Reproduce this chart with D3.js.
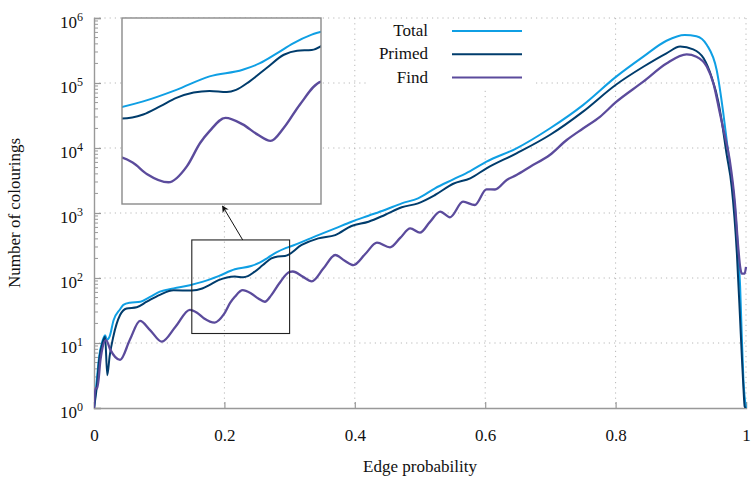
<!DOCTYPE html>
<html>
<head>
<meta charset="utf-8">
<script src="https://cdn.jsdelivr.net/npm/d3@7"></script>
<style>
body { margin: 0; background: #fff; }
text { font-family: "Liberation Serif", "Times New Roman", serif; fill: #111; }
</style>
</head>
<body>
<svg></svg>
<script>
// values (edge probability -> number of colourings)
const totalP = [0, 0.004, 0.008, 0.013, 0.017, 0.020, 0.024, 0.030, 0.040, 0.045, 0.055, 0.071, 0.086, 0.101, 0.122, 0.147, 0.166, 0.191, 0.216, 0.241, 0.254, 0.267, 0.279, 0.293, 0.300, 0.344, 0.370, 0.395, 0.421, 0.446, 0.472, 0.497, 0.523, 0.551, 0.577, 0.602, 0.648, 0.699, 0.750, 0.800, 0.8425, 0.878, 0.906, 0.924, 0.940, 0.955, 0.965, 0.970, 0.975, 0.983, 0.988, 0.991, 0.9934, 0.996, 1];
const totalN = [1, 2.5, 6.3, 10.7, 13.2, 11.2, 12.6, 22.4, 33.1, 38.5, 41.7, 43.2, 51.3, 61.7, 69.2, 77.6, 87.1, 107, 136, 153, 172, 206, 245, 286, 302, 457, 581, 735, 908, 1112, 1409, 1683, 2399, 3296, 4426, 6166, 9886, 19950, 45710, 123000, 254100, 446700, 547000, 524800, 384600, 158500, 35480, 14130, 5623, 1259, 251, 74, 14.1, 2.8, 1];

const primedP = [0, 0.004, 0.008, 0.013, 0.017, 0.0204, 0.024, 0.0296, 0.040, 0.050, 0.0655, 0.081, 0.101, 0.122, 0.150, 0.166, 0.179, 0.191, 0.204, 0.216, 0.229, 0.236, 0.246, 0.259, 0.272, 0.282, 0.293, 0.3185, 0.344, 0.370, 0.395, 0.421, 0.446, 0.472, 0.497, 0.523, 0.551, 0.577, 0.602, 0.648, 0.699, 0.750, 0.800, 0.8425, 0.878, 0.899, 0.919, 0.935, 0.947, 0.958, 0.963, 0.970, 0.978, 0.986, 0.991, 0.9934, 0.996, 0.998, 1];
const primedN = [1, 2.0, 5.6, 10, 12.5, 3.2, 6.3, 12.5, 26.9, 33.9, 35.5, 43.2, 55, 64.6, 64.3, 69, 80, 92.7, 102, 105, 103, 107, 124, 158, 200, 215, 218, 322, 407, 457, 631, 735, 933, 1225, 1409, 1892, 2818, 3412, 4864, 8279, 15850, 36310, 93330, 177800, 286400, 363100, 329600, 239900, 125900, 48980, 25120, 8318, 2541, 240, 22.6, 6.9, 2.1, 1.05, 1];

const findP = [0, 0.002, 0.005, 0.010, 0.0185, 0.025, 0.040, 0.055, 0.0706, 0.086, 0.104, 0.125, 0.147, 0.158, 0.169, 0.185, 0.199, 0.209, 0.216, 0.228, 0.241, 0.252, 0.262, 0.272, 0.284, 0.300, 0.305, 0.320, 0.334, 0.352, 0.370, 0.384, 0.398, 0.416, 0.434, 0.454, 0.470, 0.485, 0.500, 0.515, 0.531, 0.546, 0.566, 0.584, 0.602, 0.615, 0.633, 0.648, 0.669, 0.699, 0.725, 0.750, 0.776, 0.800, 0.8425, 0.878, 0.909, 0.924, 0.940, 0.950, 0.960, 0.965, 0.975, 0.983, 0.988, 0.991, 0.9934, 0.998, 1];
const findN = [1, 2, 2, 5.6, 11.1, 7.9, 5.5, 11.2, 21.9, 15.8, 10.5, 17.8, 32.4, 29.3, 23.8, 20.6, 27.5, 41.7, 51.3, 65, 57.8, 48.4, 43.1, 54.5, 82.2, 124, 126, 105, 88.7, 141, 226, 186, 158, 234, 349, 296, 417, 581, 498, 724, 1047, 859, 1493, 1327, 2312, 2300, 3221, 3846, 5164, 7798, 13270, 19950, 30200, 50120, 104700, 199500, 275400, 254100, 177800, 98860, 34280, 19950, 6531, 1413, 302, 148, 117, 117, 148];

const seriesNames = ["Total", "Primed", "Find"];
const seriesColors = ["#0f9fe4", "#003c6c", "#5b4b9c"];
const xTicks = [0, 0.2, 0.4, 0.6, 0.8, 1];
const yTicks = [1, 10, 100, 1000, 10000, 100000, 1000000];
const zoomP = [0.15, 0.30];
const zoomN = [14, 385];

const width = 752, height = 481;
const margin = {left: 94, right: 6, top: 18, bottom: 73};
const innerW = width - margin.left - margin.right;
const innerH = height - margin.top - margin.bottom;
const fontSize = 17;

let svg = d3.select("svg").attr("width", width).attr("height", height);

let xScale = d3.scaleLinear().domain([0, 1]).range([margin.left, margin.left + innerW]);
let yScale = d3.scaleLog().domain([1, 1e6]).range([margin.top + innerH, margin.top]);

const series = [
  totalP.map((p, i) => ({p: p, n: totalN[i]})),
  primedP.map((p, i) => ({p: p, n: primedN[i]})),
  findP.map((p, i) => ({p: p, n: findN[i]}))
];

// grid
let grid = svg.append("g").attr("stroke", "#b8b8b8").attr("stroke-width", 1).attr("stroke-dasharray", "1.2,4");
grid.selectAll(".gx").data(xTicks.slice(1)).enter().append("line")
  .attr("x1", d => xScale(d)).attr("x2", d => xScale(d))
  .attr("y1", margin.top).attr("y2", margin.top + innerH);
grid.selectAll(".gy").data(yTicks.slice(1)).enter().append("line")
  .attr("x1", margin.left).attr("x2", margin.left + innerW)
  .attr("y1", d => yScale(d)).attr("y2", d => yScale(d));

// axes
let xAxis = d3.axisBottom(xScale).tickValues(xTicks).tickSize(-6).tickPadding(21)
  .tickFormat(d => (d === 0 || d === 1) ? d : d.toFixed(1));
let gx = svg.append("g").attr("transform", `translate(0, ${margin.top + innerH})`).call(xAxis);
gx.select(".domain").attr("stroke", "#999").attr("stroke-width", 1.4);
gx.selectAll(".tick line").attr("stroke", "#999").attr("stroke-width", 1.2);
gx.selectAll(".tick text").attr("font-size", fontSize).attr("font-family", "Liberation Serif").attr("fill", "#111");

let minorTicks = [];
for (let e = 0; e < 6; e++) for (let k = 2; k <= 9; k++) minorTicks.push(k * Math.pow(10, e));
svg.append("g").selectAll("line").data(minorTicks).enter().append("line")
  .attr("x1", margin.left).attr("x2", margin.left + 4)
  .attr("y1", d => yScale(d)).attr("y2", d => yScale(d))
  .attr("stroke", "#999").attr("stroke-width", 1);

let yAxis = d3.axisLeft(yScale).tickValues(yTicks).tickSize(-7).tickFormat("");
let gy = svg.append("g").attr("transform", `translate(${margin.left}, 0)`).call(yAxis);
gy.select(".domain").attr("stroke", "#999").attr("stroke-width", 1.4);
gy.selectAll(".tick line").attr("stroke", "#999").attr("stroke-width", 1.2);
gy.selectAll(".tick text").remove();
yTicks.forEach(d => {
  let t = svg.append("text")
    .attr("x", margin.left - 11)
    .attr("y", yScale(d) + 10)
    .attr("text-anchor", "end")
    .attr("font-size", fontSize);
  t.append("tspan").text("10");
  t.append("tspan").attr("dy", -7).attr("font-size", 12).text(Math.round(Math.log10(d)));
});

// axis titles
svg.append("text").attr("x", margin.left + innerW / 2).attr("y", 472)
  .attr("text-anchor", "middle").attr("font-size", fontSize).text("Edge probability");
svg.append("text").attr("transform", `translate(20, ${margin.top + innerH / 2}) rotate(-90)`)
  .attr("text-anchor", "middle").attr("font-size", fontSize).text("Number of colourings");

// main curves
svg.append("clipPath").attr("id", "plotClip").append("rect")
  .attr("x", margin.left).attr("y", margin.top - 4).attr("width", innerW + 4).attr("height", innerH + 4);

let line = d3.line().x(d => xScale(d.p)).y(d => yScale(d.n)).curve(d3.curveMonotoneX);
svg.append("g").attr("clip-path", "url(#plotClip)")
  .selectAll("path").data(series).enter().append("path")
  .attr("d", line)
  .attr("fill", "none")
  .attr("stroke", (d, i) => seriesColors[i])
  .attr("stroke-width", (d, i) => i === 2 ? 2.3 : 2)
  .attr("stroke-linejoin", "round");

// zoom window on the main plot
let zx0 = xScale(zoomP[0]), zx1 = xScale(zoomP[1]);
let zy0 = yScale(zoomN[1]), zy1 = yScale(zoomN[0]);
svg.append("rect").attr("x", zx0).attr("y", zy0).attr("width", zx1 - zx0).attr("height", zy1 - zy0)
  .attr("fill", "none").attr("stroke", "#222").attr("stroke-width", 1.1);

// inset
const inset = {x: 122, y: 18, w: 199, h: 186};
let xIn = d3.scaleLinear().domain(zoomP).range([inset.x, inset.x + inset.w]);
let yIn = d3.scaleLog().domain(zoomN).range([inset.y + inset.h, inset.y]);

svg.append("rect").attr("x", inset.x).attr("y", inset.y).attr("width", inset.w).attr("height", inset.h)
  .attr("fill", "#fff");
svg.append("clipPath").attr("id", "insetClip").append("rect")
  .attr("x", inset.x).attr("y", inset.y).attr("width", inset.w).attr("height", inset.h);
let lineIn = d3.line().x(d => xIn(d.p)).y(d => yIn(d.n)).curve(d3.curveMonotoneX);
svg.append("g").attr("clip-path", "url(#insetClip)")
  .selectAll("path").data(series).enter().append("path")
  .attr("d", lineIn)
  .attr("fill", "none")
  .attr("stroke", (d, i) => seriesColors[i])
  .attr("stroke-width", (d, i) => i === 2 ? 2.4 : 2);
svg.append("rect").attr("x", inset.x).attr("y", inset.y).attr("width", inset.w).attr("height", inset.h)
  .attr("fill", "none").attr("stroke", "#8a8a8a").attr("stroke-width", 1.4);

// arrow from zoom window to inset
svg.append("defs").append("marker")
  .attr("id", "arrowHead").attr("viewBox", "0 0 10 10").attr("refX", 9).attr("refY", 5)
  .attr("markerWidth", 7).attr("markerHeight", 7).attr("orient", "auto")
  .append("path").attr("d", "M0,0 L10,5 L0,10 L3,5 Z").attr("fill", "#111");
svg.append("line")
  .attr("x1", (zx0 + zx1) / 2 + 2).attr("y1", zy0)
  .attr("x2", inset.x + inset.w / 2 + 1).attr("y2", inset.y + inset.h + 2)
  .attr("stroke", "#111").attr("stroke-width", 1)
  .attr("marker-end", "url(#arrowHead)");

// legend
let legend = svg.append("g");
legend.append("rect").attr("x", 368).attr("y", 19).attr("width", 166).attr("height", 70).attr("fill", "#fff");
seriesNames.forEach((name, i) => {
  let y = 31 + i * 23.3;
  legend.append("text").attr("x", 428).attr("y", y + 5).attr("text-anchor", "end")
    .attr("font-size", fontSize).text(name);
  legend.append("line").attr("x1", 452).attr("x2", 522).attr("y1", y).attr("y2", y)
    .attr("stroke", seriesColors[i]).attr("stroke-width", 2);
});
</script>
</body>
</html>
